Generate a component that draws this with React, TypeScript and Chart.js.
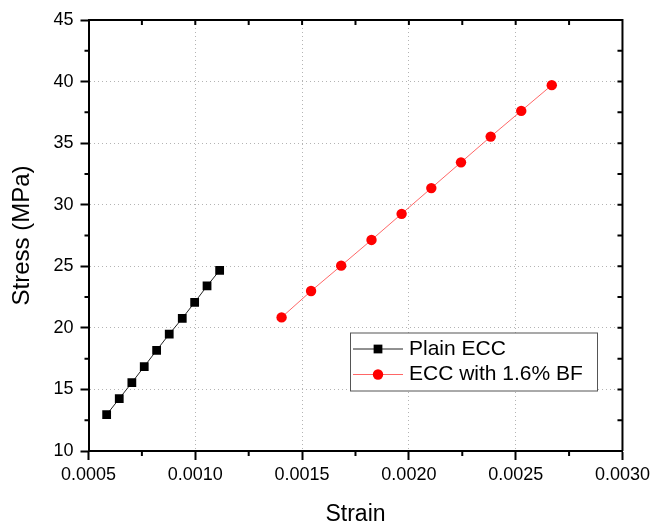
import React, { useEffect, useRef } from "react";
import { Chart, registerables } from "chart.js";

Chart.register(...registerables);

// ---- data ----
const seriesLabels = ["Plain ECC", "ECC with 1.6% BF"];
const plainStrain = [0.000585, 0.000644, 0.000703, 0.000761, 0.000819, 0.000878, 0.000939, 0.000997, 0.001055, 0.001114];
const plainStress = [12.95, 14.25, 15.55, 16.86, 18.18, 19.49, 20.77, 22.07, 23.4, 24.67];
const bfStrain = [0.001404, 0.001542, 0.001683, 0.001825, 0.001966, 0.002105, 0.002244, 0.002383, 0.002526, 0.002669];
const bfStress = [20.85, 22.99, 25.05, 27.14, 29.26, 31.35, 33.44, 35.53, 37.62, 39.71];
const xTicks = [0.0005, 0.001, 0.0015, 0.002, 0.0025, 0.003];
const yTicks = [10, 15, 20, 25, 30, 35, 40, 45];
const xTitle = "Strain";
const yTitle = "Stress (MPa)";

const FONT = "'Liberation Sans', Arial, Helvetica, sans-serif";

const mids = (arr: number[]) => arr.slice(0, -1).map((v, i) => (v + arr[i + 1]) / 2);

const framePlugin = {
  id: "frame",
  afterDraw(chart: any) {
    const { ctx, chartArea: a, scales } = chart;
    const xs = scales.x;
    const ys = scales.y;
    ctx.save();
    ctx.strokeStyle = "#000";
    ctx.lineWidth = 2;
    ctx.beginPath();
    ctx.moveTo(a.left, a.top);
    ctx.lineTo(a.right, a.top);
    ctx.lineTo(a.right, a.bottom);
    ctx.stroke();
    ctx.beginPath();
    // minor ticks outward on bottom / left
    mids(xTicks).forEach((v) => {
      const px = xs.getPixelForValue(v);
      ctx.moveTo(px, a.bottom);
      ctx.lineTo(px, a.bottom + 5);
    });
    mids(yTicks).forEach((v) => {
      const py = ys.getPixelForValue(v);
      ctx.moveTo(a.left, py);
      ctx.lineTo(a.left - 4, py);
    });
    // inward ticks on top / right
    [...xTicks.slice(1, -1), ...mids(xTicks)].forEach((v) => {
      const px = xs.getPixelForValue(v);
      ctx.moveTo(px, a.top);
      ctx.lineTo(px, a.top + 5);
    });
    [...yTicks.slice(1, -1), ...mids(yTicks)].forEach((v) => {
      const py = ys.getPixelForValue(v);
      ctx.moveTo(a.right, py);
      ctx.lineTo(a.right - 5, py);
    });
    ctx.stroke();
    ctx.restore();
  },
};

const legendPlugin = {
  id: "boxLegend",
  afterDraw(chart: any) {
    const { ctx } = chart;
    const bx = 350.5, by = 333, bw = 247, bh = 58;
    ctx.save();
    ctx.fillStyle = "#fff";
    ctx.fillRect(bx, by, bw, bh);
    ctx.strokeStyle = "#555";
    ctx.lineWidth = 1;
    ctx.strokeRect(bx, by, bw, bh);
    chart.data.datasets.forEach((ds: any, i: number) => {
      const cy = 349 + i * 25.5;
      ctx.strokeStyle = ds.borderColor;
      ctx.lineWidth = ds.borderWidth;
      ctx.beginPath();
      ctx.moveTo(353, cy);
      ctx.lineTo(403, cy);
      ctx.stroke();
      ctx.fillStyle = ds.pointBackgroundColor;
      ctx.beginPath();
      if (ds.pointStyle === "rect") {
        const s = ds.pointRadius * Math.SQRT1_2;
        ctx.rect(378 - s, cy - s, 2 * s, 2 * s);
      } else {
        ctx.arc(378, cy, ds.pointRadius, 0, Math.PI * 2);
      }
      ctx.fill();
      ctx.fillStyle = "#000";
      ctx.font = `21px ${FONT}`;
      ctx.textAlign = "left";
      ctx.textBaseline = "middle";
      ctx.fillText(ds.label, 409, cy);
    });
    ctx.restore();
  },
};

export default function App() {
  const ref = useRef<HTMLCanvasElement | null>(null);

  useEffect(() => {
    document.body.style.margin = "0";
    document.body.style.background = "#fff";
    if (!ref.current) return;
    const chart = new Chart(ref.current, {
      type: "scatter",
      data: {
        datasets: [
          {
            label: seriesLabels[0],
            data: plainStrain.map((x, i) => ({ x, y: plainStress[i] })),
            showLine: true,
            borderColor: "#222",
            borderWidth: 1,
            pointStyle: "rect",
            pointRadius: 6.2,
            pointBackgroundColor: "#000",
            pointBorderColor: "#000",
            pointBorderWidth: 0,
          },
          {
            label: seriesLabels[1],
            data: bfStrain.map((x, i) => ({ x, y: bfStress[i] })),
            showLine: true,
            borderColor: "rgba(255,0,0,0.6)",
            borderWidth: 1,
            pointStyle: "circle",
            pointRadius: 5.2,
            pointBackgroundColor: "#ff0000",
            pointBorderColor: "#ff0000",
            pointBorderWidth: 0,
          },
        ],
      },
      options: {
        responsive: false,
        animation: false,
        events: [],
        layout: { padding: { top: 20, right: 31.5, left: 0, bottom: 0 } },
        plugins: { legend: { display: false }, tooltip: { enabled: false } },
        scales: {
          x: {
            type: "linear",
            min: xTicks[0],
            max: xTicks[xTicks.length - 1],
            afterBuildTicks: (s: any) => {
              s.ticks = xTicks.map((value) => ({ value }));
            },
            afterFit: (s: any) => {
              s.height = 75;
            },
            ticks: {
              color: "#000",
              font: { family: FONT, size: 18 },
              padding: 4,
              maxRotation: 0,
              autoSkip: false,
              callback: (v: any) => Number(v).toFixed(4),
            },
            grid: {
              color: "#b4b4b4",
              lineWidth: 1,
              drawTicks: true,
              tickLength: 9,
              tickColor: "#000",
              tickWidth: 2,
            },
            border: { display: true, color: "#000", width: 2, dash: [1, 3] },
            title: {
              display: true,
              text: xTitle,
              color: "#000",
              font: { family: FONT, size: 23, lineHeight: 1 },
              padding: 0,
            },
          },
          y: {
            type: "linear",
            min: yTicks[0],
            max: yTicks[yTicks.length - 1],
            afterBuildTicks: (s: any) => {
              s.ticks = yTicks.map((value) => ({ value }));
            },
            afterFit: (s: any) => {
              s.width = 88.5;
            },
            ticks: {
              color: "#000",
              font: { family: FONT, size: 18 },
              padding: 7,
              autoSkip: false,
            },
            grid: {
              color: "#b4b4b4",
              lineWidth: 1,
              drawTicks: true,
              tickLength: 8,
              tickColor: "#000",
              tickWidth: 2,
            },
            border: { display: true, color: "#000", width: 2, dash: [1, 3] },
            title: {
              display: true,
              text: yTitle,
              color: "#000",
              font: { family: FONT, size: 24, lineHeight: 1 },
              padding: { top: 10, bottom: 0 },
            },
          },
        },
      } as any,
      plugins: [framePlugin, legendPlugin],
    });
    return () => chart.destroy();
  }, []);

  return (
    <div style={{ width: 654, height: 526, position: "relative" }}>
      <canvas ref={ref} width={654} height={526} />
    </div>
  );
}
